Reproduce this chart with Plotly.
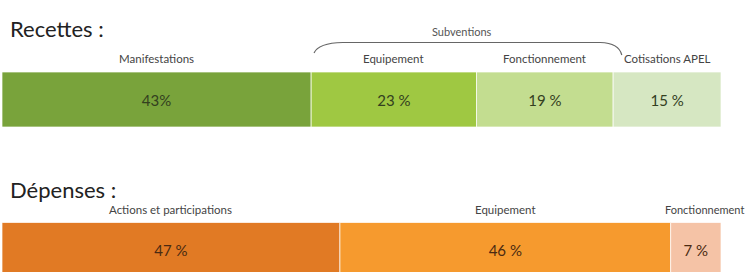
import plotly.graph_objects as go

# ---- data ----
recettes_cats = ["Manifestations", "Equipement", "Fonctionnement", "Cotisations APEL"]
recettes_vals = [43, 23, 19, 15]
recettes_text = ["43%", "23 %", "19 %", "15 %"]
recettes_colors = ["#79a33b", "#9fc842", "#c3dd90", "#d6e7c2"]

depenses_cats = ["Actions et participations", "Equipement", "Fonctionnement"]
depenses_vals = [47, 46, 7]
depenses_text = ["47 %", "46 %", "7 %"]
depenses_colors = ["#e17a24", "#f69a2e", "#f5c3a6"]

group_label = "Subventions"
group_members = [1, 2]  # indices in recettes covered by the brace

W, H = 745, 272
FONT = "Lato"

def starts(vals):
    out, s = [], 0
    for v in vals:
        out.append(s)
        s += v
    return out

rec_base = starts(recettes_vals)
dep_base = starts(depenses_vals)

ROW_REC, ROW_DEP, BAR_W = 99.5, 250, 55

fig = go.Figure()
fig.add_trace(go.Bar(
    orientation="h", y=[ROW_REC] * len(recettes_vals), x=recettes_vals, base=rec_base,
    width=BAR_W, marker=dict(color=recettes_colors, line=dict(color="rgba(255,255,255,0.7)", width=1)),
    text=recettes_text, textposition="inside", insidetextanchor="middle", constraintext="none",
    textangle=0, textfont=dict(family=FONT, size=15, color="#33401f"), hoverinfo="skip",
))
fig.add_trace(go.Bar(
    orientation="h", y=[ROW_DEP] * len(depenses_vals), x=depenses_vals, base=dep_base,
    width=BAR_W, marker=dict(color=depenses_colors, line=dict(color="rgba(255,255,255,0.7)", width=1)),
    text=depenses_text, textposition="inside", insidetextanchor="middle", constraintext="none",
    textangle=0, textfont=dict(family=FONT, size=15, color="#4a2a12"), hoverinfo="skip",
))

ann = []
ann.append(dict(text="Recettes :", x=8 / W, xref="paper", y=28, yref="y", xanchor="left",
                yanchor="middle", showarrow=False, font=dict(family=FONT, size=22, color="#222")))
ann.append(dict(text="Dépenses :", x=8 / W, xref="paper", y=189, yref="y", xanchor="left",
                yanchor="middle", showarrow=False, font=dict(family=FONT, size=22, color="#222")))
for c, b, v in zip(recettes_cats, rec_base, recettes_vals):
    ann.append(dict(text=c, x=b + v / 2, xref="x", y=58, yref="y", showarrow=False,
                    yanchor="middle", font=dict(family=FONT, size=11.5, color="#444")))
for i, (c, b, v) in enumerate(zip(depenses_cats, dep_base, depenses_vals)):
    if i == len(depenses_cats) - 1:
        ann.append(dict(text=c, x=704 / W, xref="paper", xanchor="center", y=209, yref="y",
                        showarrow=False, yanchor="middle",
                        font=dict(family=FONT, size=11, color="#444")))
    else:
        ann.append(dict(text=c, x=b + v / 2, xref="x", y=209, yref="y", showarrow=False,
                        yanchor="middle", font=dict(family=FONT, size=11.5, color="#444")))

g0 = rec_base[group_members[0]]
g1 = rec_base[group_members[-1]] + recettes_vals[group_members[-1]]
ann.append(dict(text=group_label, x=(g0 + g1) / 2, xref="x", y=31, yref="y", showarrow=False,
                yanchor="middle", font=dict(family=FONT, size=11, color="#555")))

x0, x1 = g0 + 0.4, g1 + 1.2
brace = (f"M {x0},53 Q {x0 + 0.6},43 {x0 + 4},42.5 L {x1 - 3},42.5 "
         f"Q {x1 - 0.4},43 {x1},55")

fig.update_layout(
    width=W, height=H, margin=dict(l=0, r=0, t=0, b=0),
    paper_bgcolor="white", plot_bgcolor="white", showlegend=False, barmode="overlay",
    xaxis=dict(domain=[2 / W, 721 / W], range=[0, 100], visible=False, fixedrange=True),
    yaxis=dict(domain=[0, 1], range=[H, 0], visible=False, fixedrange=True),
    annotations=ann,
    shapes=[dict(type="path", path=brace, xref="x", yref="y",
                 line=dict(color="#666", width=1.2))],
)

fig.write_html("out.html", config={"displayModeBar": False},
               post_script="document.body.style.margin='0';document.body.style.overflow='hidden';")
